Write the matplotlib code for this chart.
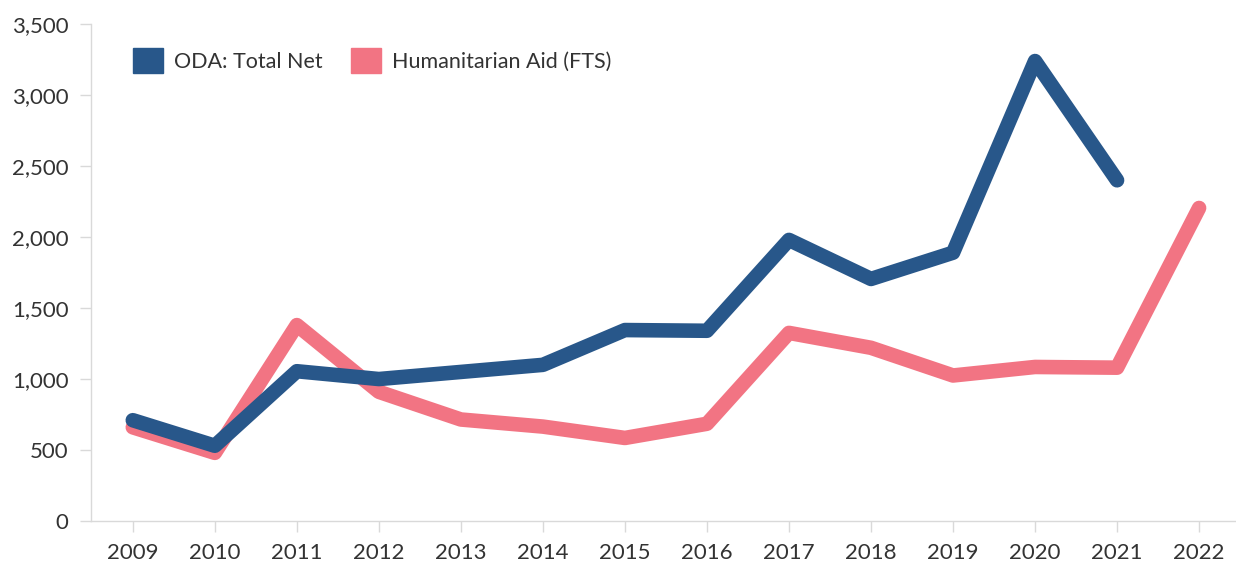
import matplotlib.pyplot as plt
from matplotlib.patches import Patch
from matplotlib.ticker import FuncFormatter

plt.rcParams['font.family'] = ['Lato', 'DejaVu Sans']

years = list(range(2009, 2023))
oda = [710, 530, 1055, 1000, 1050, 1100, 1345, 1340, 1980, 1705, 1890, 3240, 2400]
hum = [660, 480, 1380, 910, 715, 665, 585, 685, 1325, 1220, 1025, 1085, 1080, 2205]

blue = '#28578a'
pink = '#f27483'

fig = plt.figure(figsize=(12.36, 5.61), dpi=100)
ax = fig.add_axes([0.0736, 0.0713, 0.9264, 0.8857])

ax.plot(years[:len(oda)], oda, color=blue, lw=10.5, solid_capstyle='round', solid_joinstyle='round', zorder=3)
ax.plot(years, hum, color=pink, lw=10.5, solid_capstyle='round', solid_joinstyle='round', zorder=2)

ax.set_xlim(2008.49, 2022.45)
ax.set_ylim(0, 3500)
ax.set_xticks(years)
ax.set_yticks(range(0, 3501, 500))
ax.yaxis.set_major_formatter(FuncFormatter(lambda v, p: f'{int(v):,}'))

for s in ['top', 'right']:
    ax.spines[s].set_visible(False)
for s in ['left', 'bottom']:
    ax.spines[s].set_color('#d9d9d9')
    ax.spines[s].set_linewidth(1)
ax.tick_params(colors='#d9d9d9', labelcolor='#333333', labelsize=16, length=8, width=1)
ax.tick_params(axis='x', pad=8)
ax.tick_params(axis='y', pad=8)

handles = [Patch(color=blue, label='ODA: Total Net'), Patch(color=pink, label='Humanitarian Aid (FTS)')]
ax.legend(handles=handles, loc='upper left', bbox_to_anchor=(0.02, 0.99), ncol=2, frameon=False,
          fontsize=15.5, handlelength=1.4, handleheight=1.4, handletextpad=0.5, columnspacing=1.3,
          labelcolor='#333333')

fig.savefig('out.png', dpi=100)
